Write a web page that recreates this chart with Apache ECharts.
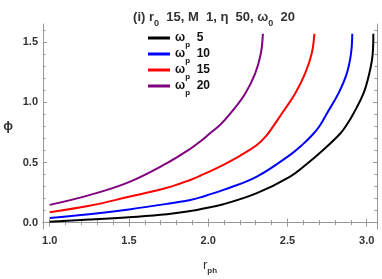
<!DOCTYPE html>
<html><head><meta charset="utf-8">
<script src="https://cdn.jsdelivr.net/npm/echarts@6/dist/echarts.min.js"></script>
<style>html,body{margin:0;padding:0;background:#fff}#c{width:382px;height:279px}</style>
</head><body><div id="c"></div>
<script>
const omegaP = [5, 10, 15, 20];
const colors = ['#000000', '#0000ff', '#ff0000', '#800080'];
const r5   = [1.0, 1.25, 1.5, 1.74, 1.887, 1.95, 2.096, 2.307, 2.517, 2.62, 2.727, 2.832, 2.874, 2.916, 2.979, 3.016, 3.038, 3.042];
const phi5 = [0.008, 0.025, 0.045, 0.07, 0.0975, 0.112, 0.153, 0.245, 0.383, 0.485, 0.606, 0.739, 0.814, 0.906, 1.0725, 1.239, 1.406, 1.571];
const r10   = [1.0, 1.25, 1.5, 1.74, 1.887, 1.95, 2.096, 2.307, 2.517, 2.6, 2.664, 2.706, 2.748, 2.821, 2.874, 2.901, 2.909];
const phi10 = [0.039, 0.07, 0.11, 0.156, 0.189, 0.21, 0.272, 0.383, 0.564, 0.655, 0.739, 0.81, 0.906, 1.0725, 1.239, 1.406, 1.571];
const r15   = [1.0, 1.25, 1.5, 1.74, 1.887, 1.95, 2.096, 2.2, 2.307, 2.365, 2.41, 2.464, 2.548, 2.611, 2.653, 2.67];
const phi15 = [0.087, 0.14, 0.215, 0.29, 0.355, 0.39, 0.481, 0.555, 0.645, 0.72, 0.80, 0.906, 1.0725, 1.239, 1.406, 1.571];
const r20   = [1.0, 1.256, 1.5, 1.74, 1.887, 1.95, 2.008, 2.076, 2.139, 2.233, 2.296, 2.332, 2.345];
const phi20 = [0.1475, 0.231, 0.337, 0.495, 0.614, 0.675, 0.739, 0.814, 0.906, 1.0725, 1.239, 1.406, 1.571];
const xMajor = [1.0, 1.5, 2.0, 2.5, 3.0];
const yMajor = [0.0, 0.5, 1.0, 1.5];
const xMinor = [1.1,1.2,1.3,1.4,1.6,1.7,1.8,1.9,2.1,2.2,2.3,2.4,2.6,2.7,2.8,2.9];
const yMinor = [0.1,0.2,0.3,0.4,0.6,0.7,0.8,0.9,1.1,1.2,1.3,1.4,1.6];
const rs = [r5, r10, r15, r20];
const phis = [phi5, phi10, phi15, phi20];

const FONT = 'Liberation Sans, Arial, sans-serif';
const TXT = '#333';
const XMIN = 0.958, XMAX = 3.065, YMIN = -0.053, YMAX = 1.652;
const axisLineStyle = {show: true, lineStyle: {color: '#999', width: 1}};
function xAx(pos, vals, len, labels, line) {
  return {type: 'value', position: pos, min: XMIN, max: XMAX, gridIndex: 0,
    axisLine: line ? axisLineStyle : {show: false},
    axisTick: {show: true, inside: true, length: len, customValues: vals, lineStyle: {color: '#999'}},
    axisLabel: labels ? {show: true, customValues: vals, formatter: v => v.toFixed(1), color: TXT, fontFamily: FONT, fontWeight: 'bold', fontSize: 11, margin: 6} : {show: false},
    splitLine: {show: false},
    name: labels ? '{r|r}{s|ph}' : '', nameLocation: 'middle', nameGap: 30,
    nameTextStyle: {rich: {r: {fontFamily: FONT, fontSize: 13, color: TXT}, s: {fontFamily: FONT, fontSize: 8, fontWeight: 'bold', color: TXT, verticalAlign: 'bottom', padding: [0,0,-3,0]}}}
  };
}
function yAx(pos, vals, len, labels, line) {
  return {type: 'value', position: pos, min: YMIN, max: YMAX, gridIndex: 0,
    axisLine: line ? axisLineStyle : {show: false},
    axisTick: {show: true, inside: true, length: len, customValues: vals, lineStyle: {color: '#999'}},
    axisLabel: labels ? {show: true, customValues: vals, formatter: v => v.toFixed(1), color: TXT, fontFamily: FONT, fontWeight: 'bold', fontSize: 11, margin: 5} : {show: false},
    splitLine: {show: false},
    name: labels ? 'ϕ' : '', nameLocation: 'middle', nameGap: 30, nameRotate: 0,
    nameTextStyle: {fontFamily: FONT, fontSize: 13, fontWeight: 'bold', color: TXT}
  };
}
const series = omegaP.map((w, i) => ({
  name: 'ωp ' + w, type: 'line', xAxisIndex: 0, yAxisIndex: 0,
  data: rs[i].map((r, k) => [r, phis[i][k]]),
  showSymbol: false, smooth: 0.4,
  lineStyle: {color: colors[i], width: 2}, itemStyle: {color: colors[i]}
}));
const chart = echarts.init(document.getElementById('c'), null, {renderer: 'canvas'});
chart.setOption({
  animation: false,
  backgroundColor: '#fff',
  title: {
    text: '{b|(i) r}{s|0}{b|  15, M  1, η  50, ω}{s|0}{b|  20}',
    left: 209, top: 6, textAlign: 'center',
    textStyle: {rich: {
      b: {fontFamily: FONT, fontSize: 13, fontWeight: 'bold', color: TXT},
      s: {fontFamily: FONT, fontSize: 9, fontWeight: 'bold', color: TXT, verticalAlign: 'bottom', padding: [0,0,-4,0]}
    }}
  },
  legend: {
    orient: 'vertical', left: 143, top: 27, itemWidth: 22, itemHeight: 3, itemGap: -0.5,
    icon: 'rect',
    data: series.map(s => s.name),
    formatter: name => '{b|ω}{s|p}{b|  ' + name.split(' ')[1] + '}',
    textStyle: {rich: {
      b: {fontFamily: FONT, fontSize: 12, fontWeight: 'bold', color: '#111', height: 13},
      s: {fontFamily: FONT, fontSize: 8, fontWeight: 'bold', color: '#111', verticalAlign: 'bottom', padding: [0,0,-4,0]}
    }},
    itemStyle: {borderWidth: 0}
  },
  grid: {left: 43, right: 5, top: 24, bottom: 50, containLabel: false, outerBoundsMode: 'none'},
  xAxis: [
    xAx('bottom', xMajor, 4, true, true),
    xAx('bottom', xMinor, 2.5, false, false),
    xAx('top', xMajor, 4, false, true),
    xAx('top', xMinor, 2.5, false, false)
  ],
  yAxis: [
    yAx('left', yMajor, 4, true, true),
    yAx('left', yMinor, 2.5, false, false),
    yAx('right', yMajor, 4, false, true),
    yAx('right', yMinor, 2.5, false, false)
  ],
  series: series
});
</script></body></html>
